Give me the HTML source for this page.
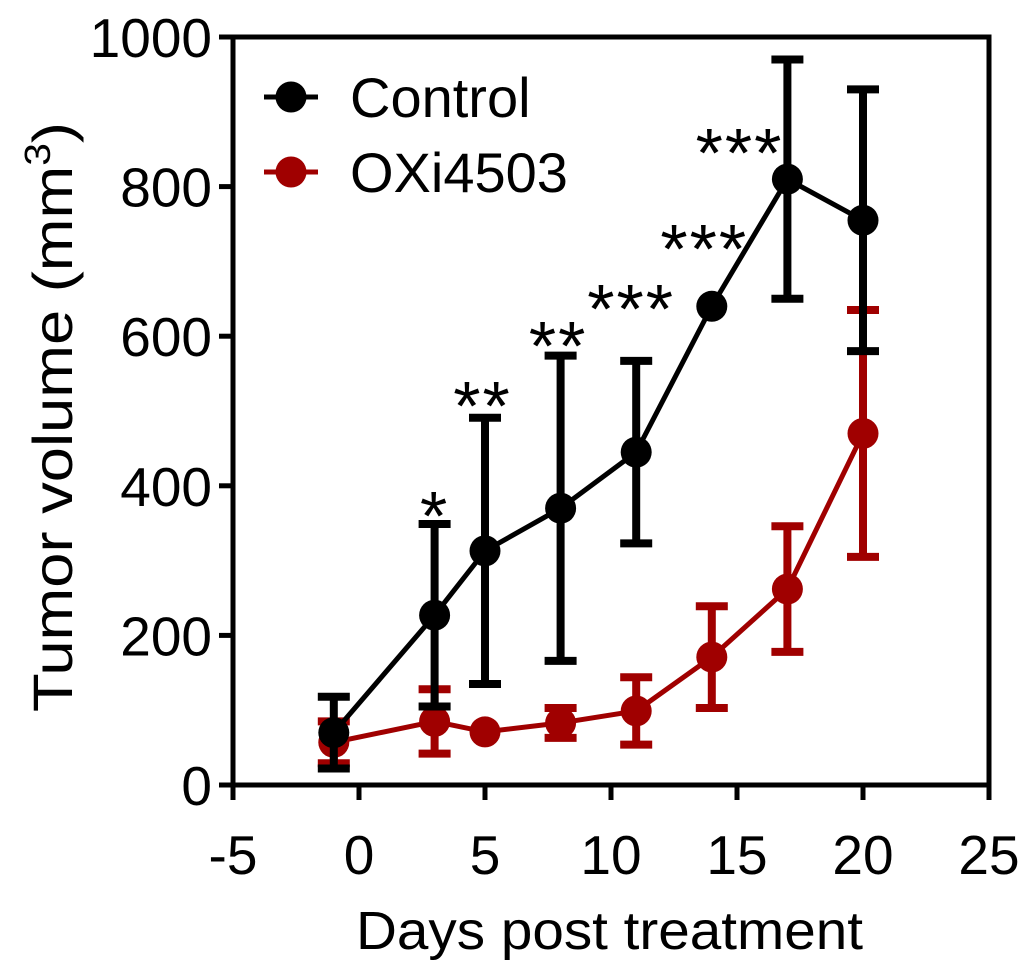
<!DOCTYPE html>
<html><head><meta charset="utf-8"><style>
html,body{margin:0;padding:0;background:#fff;}
svg{display:block;font-family:"Liberation Sans",sans-serif;}
</style></head><body>
<svg id="chart" width="1024" height="980" viewBox="0 0 1024 980" xmlns="http://www.w3.org/2000/svg">
<g id="frame"></g><g id="axes"></g><g id="series"></g><g id="stars"></g><g id="legend"></g>
</svg>
<script>
const days = [-1, 3, 5, 8, 11, 14, 17, 20];
const controlMean = [70, 227, 313, 370, 445, 640, 810, 755];
const controlErr = [48, 122, 178, 204, 122, 0, 160, 175];
const oxiMean = [57, 85, 71, 83, 99, 171, 262, 470];
const oxiErr = [28, 43, 0, 20, 45, 68, 84, 165];
const xTicks = [-5, 0, 5, 10, 15, 20, 25];
const yTicks = [0, 200, 400, 600, 800, 1000];
const starLabels = ["*", "**", "**", "***", "***", "***"];
const starX = [3.0, 4.9, 7.9, 10.8, 13.7, 15.1];
const starY = [381, 528, 608, 658, 738, 866];

const NS = "http://www.w3.org/2000/svg";
const X0 = 233, X1 = 989, Y0 = 785, Y1 = 37;
const xs = v => X0 + (v + 5) / 30 * (X1 - X0);
const ys = v => Y0 - v / 1000 * (Y0 - Y1);
function mk(tag, attrs, parent) {
  const e = document.createElementNS(NS, tag);
  for (const k in attrs) e.setAttribute(k, attrs[k]);
  parent.appendChild(e);
  return e;
}
const frame = document.getElementById('frame');
const axes = document.getElementById('axes');
const series = document.getElementById('series');
const starsG = document.getElementById('stars');
const legend = document.getElementById('legend');

const box = mk('rect', {x: X0, y: Y1, width: X1 - X0, height: Y0 - Y1, fill: 'none', stroke: '#000', 'stroke-width': 5}, frame);



xTicks.forEach(t => {
  const l = mk('line', {x1: xs(t), x2: xs(t), y1: Y0, y2: Y0 + 15, stroke: '#000', 'stroke-width': 5}, axes);
  
  
  const tx = mk('text', {x: xs(t), y: 874, 'font-size': 55, 'text-anchor': 'middle'}, axes);
  tx.textContent = t;
  
  
});
yTicks.forEach(t => {
  const l = mk('line', {x1: X0 - 14, x2: X0, y1: ys(t), y2: ys(t), stroke: '#000', 'stroke-width': 5}, axes);
  
  
  const tx = mk('text', {x: 212, y: ys(t) + 20, 'font-size': 55, 'text-anchor': 'end'}, axes);
  tx.textContent = t;
  
  
});
const xl = mk('text', {x: 356, y: 949, 'font-size': 54, textLength: 507, lengthAdjust: 'spacingAndGlyphs'}, axes);
xl.textContent = 'Days post treatment';


const yl = mk('text', {x: 0, y: 0, 'font-size': 56, transform: 'translate(72,712) rotate(-90)', textLength: 590, lengthAdjust: 'spacingAndGlyphs'}, axes);


yl.innerHTML = '<tspan>Tumor volume  (mm</tspan><tspan font-size="36" dy="-22">3</tspan><tspan dy="22">)</tspan>';

function drawSeries(mean, err, color, name) {
  const g = mk('g', {}, series);
  
  
  days.forEach((d, i) => {
    if (err[i] <= 0) return;
    const x = xs(d), top = ys(mean[i] + err[i]), bot = ys(mean[i] - err[i]);
    const eb = mk('path', {d: `M${x},${top}V${bot}M${x - 16},${top}H${x + 16}M${x - 16},${bot}H${x + 16}`, stroke: color, 'stroke-width': 8, fill: 'none'}, g);
    
    
  });
  const pts = days.map((d, i) => xs(d) + ',' + ys(mean[i])).join(' ');
  const pl = mk('polyline', {points: pts, fill: 'none', stroke: color, 'stroke-width': 5}, g);
  
  
  days.forEach((d, i) => {
    const c = mk('circle', {cx: xs(d), cy: ys(mean[i]), r: 15.5, fill: color}, g);
    
    
  });
}
drawSeries(oxiMean, oxiErr, '#a00000', 'oxi4503');
drawSeries(controlMean, controlErr, '#000000', 'control');

starLabels.forEach((s, i) => {
  const t = mk('text', {x: xs(starX[i]), y: ys(starY[i]) + 40, 'font-size': 70, 'text-anchor': 'middle', 'letter-spacing': 2}, starsG);
  t.textContent = s;
  
  
});

[['Control', '#000000', 97], ['OXi4503', '#a00000', 172]].forEach(([lab, col, y]) => {
  const g = mk('g', {}, legend);
  
  
  mk('line', {x1: 264, x2: 318, y1: y, y2: y, stroke: col, 'stroke-width': 5}, g);
  mk('circle', {cx: 291, cy: y, r: 15.5, fill: col}, g);
  const t = mk('text', {x: 350, y: y + 20, 'font-size': 56}, g);
  t.textContent = lab;
});
</script>
</body></html>
